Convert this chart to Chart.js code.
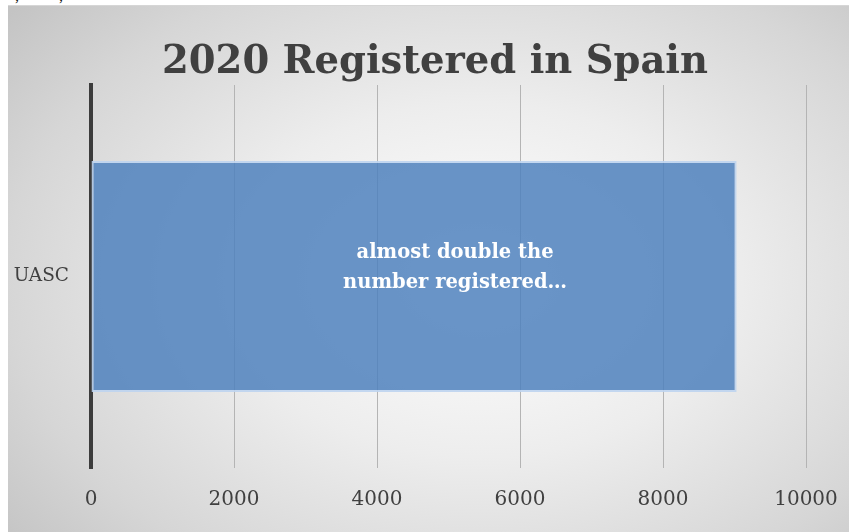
<!DOCTYPE html>
<html>
<head>
<meta charset="utf-8">
<script src="https://cdn.jsdelivr.net/npm/chart.js@4.4.1/dist/chart.umd.min.js"></script>
<style>
  html, body { margin: 0; padding: 0; background: #fff; overflow: hidden; }
  body { width: 849px; height: 532px; position: relative; }
  .above { position: absolute; left: 3px; top: -13px; font: 16px "Liberation Serif", serif; color: #111; white-space: pre; }
  .panel {
    position: absolute; left: 8px; top: 5px; width: 841px; height: 527px;
    border-top: 1px solid #d6d6d6;
    background: radial-gradient(ellipse 72% 80% at 56% 52%, #ffffff 0%, #ededed 42%, #d6d6d6 78%, #c4c4c4 100%);
  }
  canvas { display: block; }
</style>
</head>
<body>
<div class="above">   ,          ,</div>
<div class="panel"><canvas id="chart" width="841" height="526"></canvas></div>
<script>
// Unaccompanied minors registered, 2020
const categories = ['UASC'];
const registered = [9030];
const xTicks = [0, 2000, 4000, 6000, 8000, 10000];
const titleText = '2020 Registered in Spain';
const noteLines = ['almost double the', 'number registered\u2026'];

const TEXT = '#404040';
const SERIF = '"DejaVu Serif", serif';

// Title drawn by hand so it can sit right of centre
const titleDraw = {
  id: 'titleDraw',
  afterDraw(chart) {
    const { ctx } = chart;
    ctx.save();
    ctx.fillStyle = TEXT;
    ctx.font = `bold 38.5px ${SERIF}`;
    ctx.textAlign = 'center';
    ctx.textBaseline = 'alphabetic';
    ctx.fillText(titleText, 427, 67);
    ctx.restore();
  }
};

// Text note written across the bar
const barNote = {
  id: 'barNote',
  afterDatasetsDraw(chart) {
    const bar = chart.getDatasetMeta(0).data[0];
    if (!bar) return;
    const { ctx } = chart;
    const cx = (bar.base + bar.x) / 2 + 41;
    ctx.save();
    ctx.fillStyle = '#ffffff';
    ctx.font = `bold 19.5px ${SERIF}`;
    ctx.textAlign = 'center';
    ctx.textBaseline = 'middle';
    noteLines.forEach((line, i) => {
      ctx.fillText(line, cx, bar.y - 24 + i * 30);
    });
    ctx.restore();
  }
};

new Chart(document.getElementById('chart'), {
  type: 'bar',
  data: {
    labels: categories,
    datasets: [{
      data: registered,
      backgroundColor: 'rgba(79,129,189,0.85)',
      borderColor: 'rgba(190,212,240,0.9)',
      borderWidth: 2,
      borderSkipped: false,
      categoryPercentage: 1,
      barPercentage: 0.603,
    }]
  },
  options: {
    indexAxis: 'y',
    responsive: false,
    animation: false,
    layout: { padding: { left: 0, right: 43, top: 79, bottom: 4 } },
    plugins: {
      legend: { display: false },
      tooltip: { enabled: false },
      title: { display: false }
    },
    scales: {
      x: {
        min: 0,
        max: 10000,
        afterBuildTicks: s => { s.ticks = xTicks.map(v => ({ value: v })); },
        afterFit: s => { s.height = 60; s.paddingLeft = 0; s.paddingRight = 0; },
        grid: { color: '#b4b4b4', lineWidth: 1, drawTicks: false },
        border: { display: false },
        ticks: {
          color: TEXT,
          padding: 20,
          font: { family: SERIF, size: 20 },
          callback: v => String(v),
        }
      },
      y: {
        afterFit: s => { s.width = 83; },
        grid: { display: false, drawTicks: false },
        border: { color: '#3c3c3c', width: 4 },
        ticks: {
          color: TEXT,
          padding: 22,
          font: { family: SERIF, size: 18.5 },
        }
      }
    }
  },
  plugins: [barNote, titleDraw]
});
</script>
</body>
</html>
